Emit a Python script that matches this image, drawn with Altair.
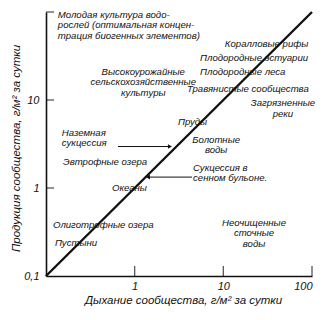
import altair as alt
import pandas as pd

FONT = "Liberation Sans"

# diagonal P = R
diag_x = [0.1, 100]
diag_y = [0.1, 100]

# left-aligned annotations
left_text = ["Молодая культура водо-", "рослей (оптимальная концен-", "трация биогенных элементов)",
             "Коралловые рифы", "Плодородные эстуарии", "Плодородные леса", "Травянистые сообщества",
             "Пруды", "Сукцессия в", "сенном бульоне.", "Наземная", "сукцессия",
             "Эвтрофные озера", "Океаны", "Олиготрофные озера", "Пустыни"]
left_x = [0.136, 0.136, 0.136, 10.4, 5.46, 5.46, 3.89, 3.08, 4.55, 4.55, 0.151, 0.151,
          0.156, 0.554, 0.120, 0.126]
left_y = [93.5, 71.1, 54.0, 43.3, 30.0, 20.8, 13.3, 5.62, 1.70, 1.29, 4.25, 3.22,
          1.97, 1.0, 0.380, 0.237]

# centered annotations
center_text = ["Высокоурожайные", "сельскохозяйственные", "культуры", "Загрязненные", "реки",
               "Болотные", "воды", "Неочищенные", "сточные", "воды"]
center_x = [1.25, 1.25, 1.25, 47, 47, 8.3, 8.3, 22.2, 22.2, 22.2]
center_y = [20.8, 16.0, 12.0, 9.3, 6.95, 3.55, 2.68, 0.405, 0.306, 0.232]

# arrows
arrow_x1 = [0.648, 4.44]
arrow_x2 = [2.5, 1.41]
arrow_y = [2.96, 1.33]
arrow_shape = ["triangle-right", "triangle-left"]

x_ticks = [1, 10, 100]
y_ticks = [1, 10, 100]
x_labels = [1, 10, 100]
y_labels = [0.1, 1, 10]

xs = alt.Scale(type="log", domain=[0.1, 100])
ys = alt.Scale(type="log", domain=[0.1, 100])

xaxis = alt.Axis(
    values=x_labels, format="~g", ticks=False, grid=False,
    domainColor="#111", domainWidth=1.6, labelFont=FONT, labelFontStyle="italic",
    labelFontSize=11, labelColor="#111", labelPadding=4,
    title="Дыхание сообщества, г/м² за сутки", titleFont=FONT, titleFontStyle="italic",
    titleFontWeight="normal", titleFontSize=11.5, titleColor="#111",
    titleX=137, titleY=24, titleBaseline="middle", titleAlign="center")
yaxis = alt.Axis(
    values=y_labels, format="~g", labelExpr="replace(datum.label, '.', ',')",
    ticks=False, grid=False, domainColor="#111", domainWidth=1.6,
    labelFont=FONT, labelFontStyle="italic", labelFontSize=11, labelColor="#111",
    labelPadding=7,
    title="Продукция сообщества, г/м² за сутки", titleFont=FONT, titleFontStyle="italic",
    titleFontWeight="normal", titleFontSize=11.5, titleColor="#111",
    titleX=-30, titleY=136, titleAngle=-90, titleBaseline="middle", titleAlign="center")


def X(f):
    return alt.X(f, type="quantitative", scale=xs, axis=xaxis)


def Y(f):
    return alt.Y(f, type="quantitative", scale=ys, axis=yaxis)


diag_df = pd.DataFrame({"x": diag_x, "y": diag_y})
diag = alt.Chart(diag_df).mark_line(color="#111", strokeWidth=2.4).encode(x=X("x"), y=Y("y"))

xt_df = pd.DataFrame({"x": x_ticks, "y": [0.1] * len(x_ticks)})
xt = alt.Chart(xt_df).mark_tick(orient="vertical", size=10, thickness=1.3, color="#111",
                                yOffset=-5).encode(x=X("x"), y=Y("y"))

yt_df = pd.DataFrame({"x": [0.1] * len(y_ticks), "y": y_ticks})
yt = alt.Chart(yt_df).mark_tick(orient="horizontal", size=8, thickness=1.3, color="#111",
                                xOffset=4).encode(x=X("x"), y=Y("y"))

left_df = pd.DataFrame({"t": left_text, "x": left_x, "y": left_y})
left = alt.Chart(left_df).mark_text(align="left", baseline="middle", font=FONT,
                                    fontStyle="italic", fontSize=9.6, color="#111").encode(
    x=X("x"), y=Y("y"), text="t:N")

center_df = pd.DataFrame({"t": center_text, "x": center_x, "y": center_y})
center = alt.Chart(center_df).mark_text(align="center", baseline="middle", font=FONT,
                                        fontStyle="italic", fontSize=9.6, color="#111").encode(
    x=X("x"), y=Y("y"), text="t:N")

arr_df = pd.DataFrame({"x1": arrow_x1, "x2": arrow_x2, "y": arrow_y, "s": arrow_shape})
arr_line = alt.Chart(arr_df).mark_rule(color="#111", strokeWidth=1).encode(
    x=X("x1"), x2="x2:Q", y=Y("y"))
arr_head = alt.Chart(arr_df).mark_point(filled=True, size=22, color="#111", opacity=1).encode(
    x=X("x2"), y=Y("y"), shape=alt.Shape("s:N", scale=None))

chart = alt.layer(diag, xt, yt, left, center, arr_line, arr_head).properties(
    width=266, height=264,
    autosize=alt.AutoSizeParams(type="none"),
    padding={"left": 46, "top": 12, "right": 15, "bottom": 44},
    background="white",
).configure_view(stroke=None)

chart.save("out.html", embed_options={"renderer": "svg", "actions": False})
